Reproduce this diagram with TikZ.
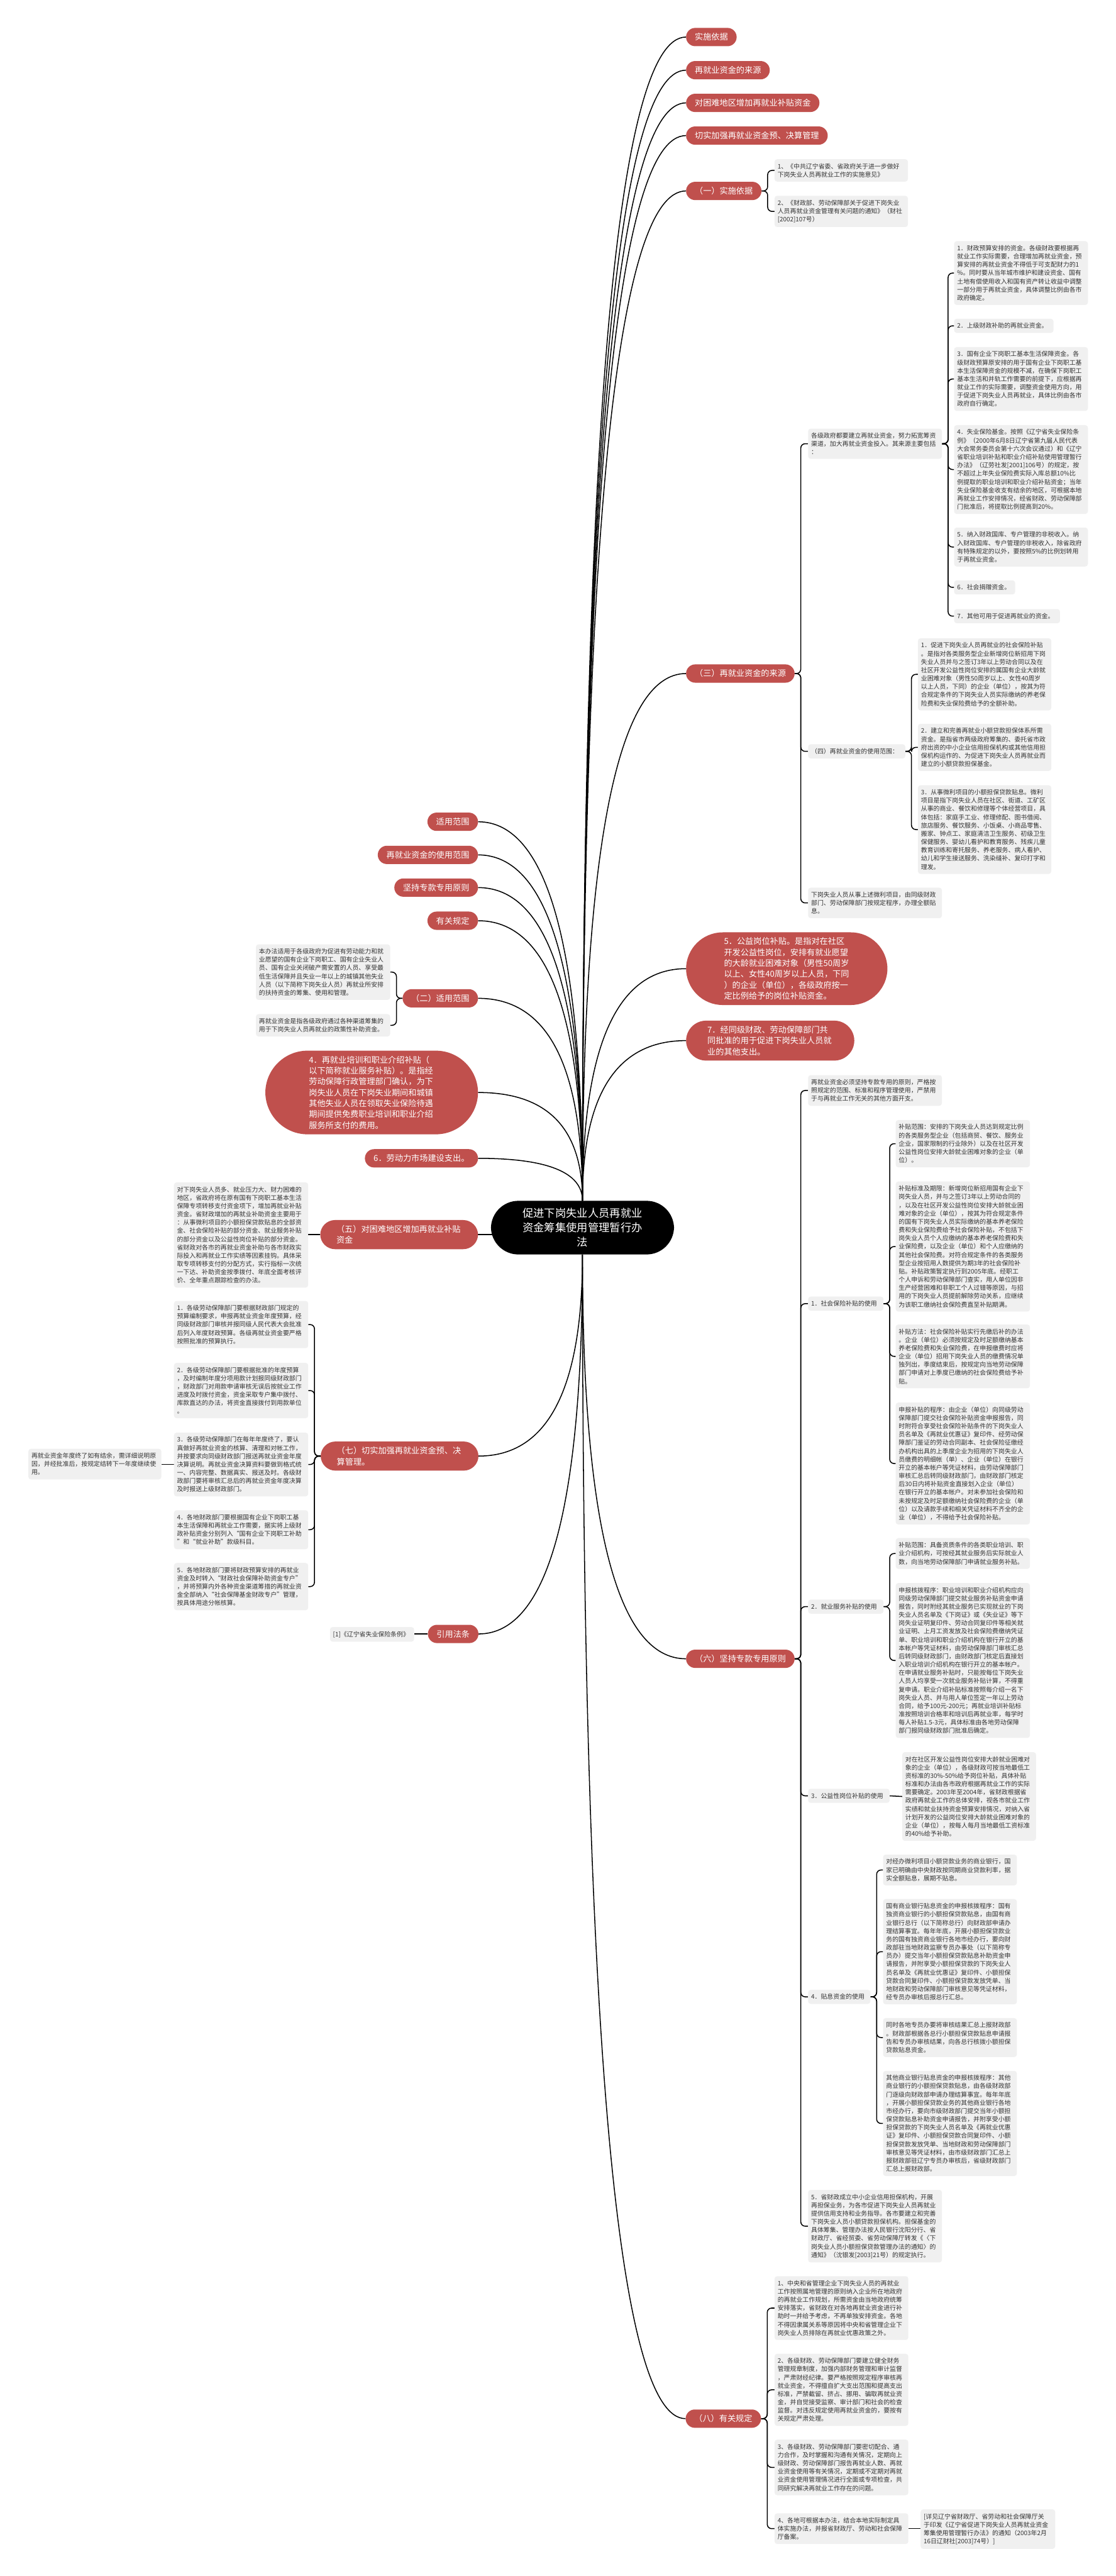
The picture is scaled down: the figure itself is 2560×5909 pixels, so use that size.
\documentclass[tikz,border=0pt]{standalone}
\usepackage{fontspec}
\setmainfont{Noto Sans CJK SC}
\usetikzlibrary{calc,backgrounds}
\definecolor{redn}{RGB}{192,80,77}
\definecolor{leafbg}{RGB}{240,240,240}
\definecolor{leaftx}{RGB}{51,51,51}
\tikzset{
  conn/.style={draw=black,line width=2.2pt,rounded corners=10pt},
  trunkline/.style={draw=black,line width=2.2pt},
  rednode/.style={fill=redn,text=white,font=\fontsize{19}{25}\selectfont,inner xsep=20pt,inner ysep=0pt,minimum height=42pt,rounded corners=21pt},
  redml/.style={fill=redn,text=white,font=\fontsize{19}{25}\selectfont,align=left,inner ysep=12pt},
  centernode/.style={fill=black,text=white,font=\fontsize{25}{33}\selectfont,align=center,text width=280pt,inner xsep=70pt,inner ysep=17pt,rounded corners=63pt},
  leaf/.style={fill=leafbg,text=leaftx,font=\fontsize{14.3}{19}\selectfont,align=left,inner xsep=7pt,inner ysep=9.5pt,rounded corners=6pt,anchor=north west},
}
\newcommand{\trunk}[2]{\draw[trunkline] (#1) .. controls ($(#1)!0.667!(#1|-#2)$) and ($(#2)!0.667!(#1|-#2)$) .. (#2);}
\newcommand{\brR}[2]{\draw[conn] (#1.east) -- ++(14,0) |- (#2.west);}
\newcommand{\brL}[2]{\draw[conn] (#1.west) -- ++(-14,0) |- (#2.east);}
\begin{document}
\begin{tikzpicture}[x=1pt,y=-1pt]
\useasboundingbox (0,0) rectangle (2560,5909);

% center
\node[centernode] (cn) at (1336.5,2816) {促进下岗失业人员再就业\\资金筹集使用管理暂行办\\法};

% right first level
\node[rednode,anchor=west] (r1) at (1574,85) {实施依据};
\node[rednode,anchor=west] (r2) at (1574,161) {再就业资金的来源};
\node[rednode,anchor=west] (r3) at (1574,236) {对困难地区增加再就业补贴资金};
\node[rednode,anchor=west] (r4) at (1574,311) {切实加强再就业资金预、决算管理};
\node[rednode,anchor=west] (r5) at (1574,438) {（一）实施依据};
\node[rednode,anchor=west] (r6) at (1574,1545) {（三）再就业资金的来源};
\node[redml,anchor=west,text width=288pt,inner xsep=87pt,rounded corners=84pt] (r7) at (1574,2222) {5．公益岗位补贴。是指对在社区\\开发公益性岗位，安排有就业愿望\\的大龄就业困难对象（男性50周岁\\以上、女性40周岁以上人员，下同\\）的企业（单位），各级政府按一\\定比例给予的岗位补贴资金。};
\node[redml,anchor=west,text width=288pt,inner xsep=49pt,rounded corners=46pt] (r8) at (1574,2387) {7．经同级财政、劳动保障部门共\\同批准的用于促进下岗失业人员就\\业的其他支出。};
\node[rednode,anchor=west] (r9) at (1574,3805) {（六）坚持专款专用原则};
\node[rednode,anchor=west] (r10) at (1573,5548) {（八）有关规定};

% (一)
\node[leaf,text width=292pt] (l1a) at (1777,365) {1、《中共辽宁省委、省政府关于进一步做好\\下岗失业人员再就业工作的实施意见》};
\node[leaf,text width=292pt] (l1b) at (1777,449) {2、《财政部、劳动保障部关于促进下岗失业\\人员再就业资金管理有关问题的通知》（财社\\{}[2002]107号）};

% (三)
\node[leaf,text width=293pt] (a) at (1854,983) {各级政府都要建立再就业资金，努力拓宽筹资\\渠道，加大再就业资金投入。其来源主要包括\\：};
\node[leaf,text width=293pt] (a1) at (2189,553) {1．财政预算安排的资金。各级财政要根据再\\就业工作实际需要，合理增加再就业资金，预\\算安排的再就业资金不得低于可支配财力的1\\\%。同时要从当年城市维护和建设资金、国有\\土地有偿使用收入和国有资产转让收益中调整\\一部分用于再就业资金，具体调整比例由各市\\政府确定。};
\node[leaf,text width=214pt] (a2) at (2189,731) {2．上级财政补助的再就业资金。};
\node[leaf,text width=293pt] (a3) at (2189,796) {3．国有企业下岗职工基本生活保障资金。各\\级财政预算原安排的用于国有企业下岗职工基\\本生活保障资金的规模不减，在确保下岗职工\\基本生活和并轨工作需要的前提下，应根据再\\就业工作的实际需要，调整资金使用方向，用\\于促进下岗失业人员再就业，具体比例由各市\\政府自行确定。};
\node[leaf,text width=293pt] (a4) at (2189,975) {4．失业保险基金。按照《辽宁省失业保险条\\例》（2000年6月8日辽宁省第九届人民代表\\大会常务委员会第十六次会议通过）和《辽宁\\省职业培训补贴和职业介绍补贴使用管理暂行\\办法》（辽劳社发[2001]106号）的规定，按\\不超过上年失业保险费实际入库总额10\%比\\例提取的职业培训和职业介绍补贴资金；当年\\失业保险基金收支有结余的地区，可根据本地\\再就业工作安排情况，经省财政、劳动保障部\\门批准后，将提取比例提高到20\%。};
\node[leaf,text width=293pt] (a5) at (2189,1210) {5．纳入财政国库、专户管理的非税收入。纳\\入财政国库、专户管理的非税收入，除省政府\\有特殊规定的以外，要按照5\%的比例划转用\\于再就业资金。};
\node[leaf,text width=126pt] (a6) at (2189,1331) {6．社会捐赠资金。};
\node[leaf,text width=229pt] (a7) at (2189,1397) {7．其他可用于促进再就业的资金。};
\node[leaf,text width=209pt] (b) at (1854,1707) {（四）再就业资金的使用范围：};
\node[leaf,text width=292pt] (b1) at (2106,1464) {1．促进下岗失业人员再就业的社会保险补贴\\。是指对各类服务型企业新增岗位新招用下岗\\失业人员并与之签订3年以上劳动合同以及在\\社区开发公益性岗位安排的属国有企业大龄就\\业困难对象（男性50周岁以上、女性40周岁\\以上人员，下同）的企业（单位），按其为符\\合规定条件的下岗失业人员实际缴纳的养老保\\险费和失业保险费给予的全额补助。};
\node[leaf,text width=292pt] (b2) at (2106,1660) {2．建立和完善再就业小额贷款担保体系所需\\资金。是指省市两级政府筹集的、委托省市政\\府出资的中小企业信用担保机构或其他信用担\\保机构运作的、为促进下岗失业人员再就业而\\建立的小额贷款担保基金。};
\node[leaf,text width=292pt] (b3) at (2106,1801) {3．从事微利项目的小额担保贷款贴息。微利\\项目是指下岗失业人员在社区、街道、工矿区\\从事的商业、餐饮和修理等个体经营项目，具\\体包括：家庭手工业、修理修配、图书借阅、\\旅店服务、餐饮服务、小饭桌、小商品零售、\\搬家、钟点工、家庭清洁卫生服务、初级卫生\\保健服务、婴幼儿看护和教育服务、残疾儿童\\教育训练和寄托服务、养老服务、病人看护、\\幼儿和学生接送服务、洗染缝补、复印打字和\\理发。};
\node[leaf,text width=293pt] (c) at (1854,2036) {下岗失业人员从事上述微利项目，由同级财政\\部门、劳动保障部门按规定程序，办理全额贴\\息。};

% (六)
\node[leaf,text width=293pt] (d) at (1854,2466) {再就业资金必须坚持专款专用的原则，严格按\\照规定的范围、标准和程序管理使用，严禁用\\于与再就业工作无关的其他方面开支。};
\node[leaf,text width=159pt] (e) at (1854,2974) {1．社会保险补贴的使用};
\node[leaf,text width=294pt] (e1) at (2055,2569) {补贴范围：安排的下岗失业人员达到规定比例\\的各类服务型企业（包括商贸、餐饮、服务业\\企业，国家限制的行业除外）以及在社区开发\\公益性岗位安排大龄就业困难对象的企业（单\\位）。};
\node[leaf,text width=294pt] (e2) at (2055,2710) {补贴标准及期限：新增岗位新招用国有企业下\\岗失业人员，并与之签订3年以上劳动合同的\\，以及在社区开发公益性岗位安排大龄就业困\\难对象的企业（单位），按其为符合规定条件\\的国有下岗失业人员实际缴纳的基本养老保险\\费和失业保险费给予社会保险补贴，不包括下\\岗失业人员个人应缴纳的基本养老保险费和失\\业保险费，以及企业（单位）和个人应缴纳的\\其他社会保险费。对符合规定条件的各类服务\\型企业按招用人数提供为期3年的社会保险补\\贴。补贴政策暂定执行到2005年底。经职工\\个人申诉和劳动保障部门查实，用人单位因非\\生产经营困难和非职工个人过错等原因，与招\\用的下岗失业人员提前解除劳动关系，应继续\\为该职工缴纳社会保险费直至补贴期满。};
\node[leaf,text width=294pt] (e3) at (2055,3038) {补贴方法：社会保险补贴实行先缴后补的办法\\。企业（单位）必须按规定及时足额缴纳基本\\养老保险费和失业保险费，在申报缴费时应将\\企业（单位）招用下岗失业人员的缴费情况单\\独列出，季度结束后，按规定向当地劳动保障\\部门申请对上季度已缴纳的社会保险费给予补\\贴。};
\node[leaf,text width=294pt] (e4) at (2055,3217) {申报补贴的程序：由企业（单位）向同级劳动\\保障部门提交社会保险补贴资金申报报告，同\\时附符合享受社会保险补贴条件的下岗失业人\\员名单及《再就业优惠证》复印件、经劳动保\\障部门鉴证的劳动合同副本、社会保险征缴经\\办机构出具的上季度企业为招用的下岗失业人\\员缴费的明细帐（单）、企业（单位）在银行\\开立的基本帐户等凭证材料，由劳动保障部门\\审核汇总后转同级财政部门，由财政部门核定\\后30日内将补贴资金直接划入企业（单位）\\在银行开立的基本帐户。对未参加社会保险和\\未按规定及时足额缴纳社会保险费的企业（单\\位）以及请款手续和相关凭证材料不齐全的企\\业（单位），不得给予社会保险补贴。};
\node[leaf,text width=159pt] (f) at (1854,3669) {2．就业服务补贴的使用};
\node[leaf,text width=294pt] (f1) at (2055,3528) {补贴范围：具备资质条件的各类职业培训、职\\业介绍机构，可按经其就业服务后实际就业人\\数，向当地劳动保障部门申请就业服务补贴。};
\node[leaf,text width=294pt] (f2) at (2055,3631) {申报核拨程序：职业培训和职业介绍机构应向\\同级劳动保障部门提交就业服务补贴资金申请\\报告，同时附经其就业服务已实现就业的下岗\\失业人员名单及《下岗证》或《失业证》等下\\岗失业证明复印件、劳动合同复印件等相关就\\业证明、上月工资发放及社会保险费缴纳凭证\\单、职业培训和职业介绍机构在银行开立的基\\本帐户等凭证材料，由劳动保障部门审核汇总\\后转同级财政部门，由财政部门核定后直接划\\入职业培训介绍机构在银行开立的基本帐户。\\在申请就业服务补贴时，只能按每位下岗失业\\人员人均享受一次就业服务补贴计算，不得重\\复申请。职业介绍补贴标准按照每介绍一名下\\岗失业人员、并与用人单位签定一年以上劳动\\合同，给予100元-200元；再就业培训补贴标\\准按照培训合格率和培训后再就业率，每学时\\每人补贴1.5-3元，具体标准由各地劳动保障\\部门报同级财政部门批准后确定。};
\node[leaf,text width=173pt] (g) at (1854,4103) {3．公益性岗位补贴的使用};
\node[leaf,text width=293pt] (g1) at (2070,4019) {对在社区开发公益性岗位安排大龄就业困难对\\象的企业（单位），各级财政可按当地最低工\\资标准的30\%-50\%给予岗位补贴，具体补贴\\标准和办法由各市政府根据再就业工作的实际\\需要确定。2003年至2004年，省财政根据省\\政府再就业工作的总体安排，视各市就业工作\\实绩和就业扶持资金预算安排情况，对纳入省\\计划开发的公益岗位安排大龄就业困难对象的\\企业（单位），按每人每月当地最低工资标准\\的40\%给予补助。};
\node[leaf,text width=129pt] (h) at (1854,4564) {4．贴息资金的使用};
\node[leaf,text width=293pt] (h1) at (2026,4254) {对经办微利项目小额贷款业务的商业银行，国\\家已明确由中央财政按同期商业贷款利率，据\\实全额贴息，展期不贴息。};
\node[leaf,text width=293pt] (h2) at (2026,4356) {国有商业银行贴息资金的申报核拨程序：国有\\独资商业银行的小额担保贷款贴息，由国有商\\业银行总行（以下简称总行）向财政部申请办\\理结算事宜。每年年底，开展小额担保贷款业\\务的国有独资商业银行各地市经办行，要向财\\政部驻当地财政监察专员办事处（以下简称专\\员办）提交当年小额担保贷款贴息补助资金申\\请报告，并附享受小额担保贷款的下岗失业人\\员名单及《再就业优惠证》复印件、小额担保\\贷款合同复印件、小额担保贷款发放凭单、当\\地财政和劳动保障部门审核意见等凭证材料，\\经专员办审核后报总行汇总。};
\node[leaf,text width=293pt] (h3) at (2026,4629) {同时各地专员办要将审核结果汇总上报财政部\\。财政部根据各总行小额担保贷款贴息申请报\\告和专员办审核结果，向各总行核拨小额担保\\贷款贴息资金。};
\node[leaf,text width=293pt] (h4) at (2026,4750) {其他商业银行贴息资金的申报核拨程序：其他\\商业银行的小额担保贷款贴息，由各级财政部\\门逐级向财政部申请办理结算事宜。每年年底\\，开展小额担保贷款业务的其他商业银行各地\\市经办行，要向市级财政部门提交当年小额担\\保贷款贴息补助资金申请报告，并附享受小额\\担保贷款的下岗失业人员名单及《再就业优惠\\证》复印件、小额担保贷款合同复印件、小额\\担保贷款发放凭单、当地财政和劳动保障部门\\审核意见等凭证材料，由市级财政部门汇总上\\报财政部驻辽宁专员办审核后，省级财政部门\\汇总上报财政部。};
\node[leaf,text width=293pt] (i) at (1854,5023) {5．省财政成立中小企业信用担保机构，开展\\再担保业务，为各市促进下岗失业人员再就业\\提供信用支持和业务指导。各市要建立和完善\\下岗失业人员小额贷款担保机构。担保基金的\\具体筹集、管理办法按人民银行沈阳分行、省\\财政厅、省经贸委、省劳动保障厅转发《〈下\\岗失业人员小额担保贷款管理办法的通知〉的\\通知》（沈银发[2003]21号）的规定执行。};

% (八)
\node[leaf,text width=293pt] (j1) at (1777,5221) {1、中央和省管理企业下岗失业人员的再就业\\工作按照属地管理的原则纳入企业所在地政府\\的再就业工作规划，所需资金由当地政府统筹\\安排落实，省财政在对各地再就业资金进行补\\助时一并给予考虑，不再单独安排资金。各地\\不得因隶属关系等原因将中央和省管理企业下\\岗失业人员排除在再就业优惠政策之外。};
\node[leaf,text width=293pt] (j2) at (1777,5399) {2、各级财政、劳动保障部门要建立健全财务\\管理规章制度，加强内部财务管理和审计监督\\，严肃财经纪律。要严格按照规定程序审核再\\就业资金，不得擅自扩大支出范围和提高支出\\标准，严禁截留、挤占、挪用、骗取再就业资\\金，并自觉接受监察、审计部门和社会的检查\\监督。对违反规定使用再就业资金的，要按有\\关规定严肃处理。};
\node[leaf,text width=293pt] (j3) at (1777,5596) {3、各级财政、劳动保障部门要密切配合、通\\力合作，及时掌握和沟通有关情况，定期向上\\级财政、劳动保障部门报告再就业人数、再就\\业资金使用等有关情况，定期或不定期对再就\\业资金使用管理情况进行全面或专项检查，共\\同研究解决再就业工作存在的问题。};
\node[leaf,text width=293pt] (j4) at (1777,5765) {4、各地可根据本办法，结合本地实际制定具\\体实施办法，并报省财政厅、劳动和社会保障\\厅备案。};
\node[leaf,text width=295pt] (j5) at (2112,5756) {[详见辽宁省财政厅、省劳动和社会保障厅关\\于印发《辽宁省促进下岗失业人员再就业资金\\筹集使用管理暂行办法》的通知（2003年2月\\16日辽财社[2003]74号）]};

% left first level
\node[rednode,anchor=east] (q1) at (1097,1885) {适用范围};
\node[rednode,anchor=east] (q2) at (1097,1961) {再就业资金的使用范围};
\node[rednode,anchor=east] (q3) at (1097,2036) {坚持专款专用原则};
\node[rednode,anchor=east] (q4) at (1097,2112) {有关规定};
\node[rednode,anchor=east] (q5) at (1097,2290) {（二）适用范围};
\node[redml,anchor=east,text width=288pt,inner xsep=100pt,rounded corners=97pt] (q6) at (1097,2506) {4．再就业培训和职业介绍补贴（\\以下简称就业服务补贴）。是指经\\劳动保障行政管理部门确认，为下\\岗失业人员在下岗失业期间和城镇\\其他失业人员在领取失业保险待遇\\期间提供免费职业培训和职业介绍\\服务所支付的费用。};
\node[rednode,anchor=east] (q7) at (1097,2657) {6．劳动力市场建设支出。};
\node[redml,anchor=east,text width=288pt,inner xsep=37pt,rounded corners=34pt] (q8) at (1097,2832) {（五）对困难地区增加再就业补贴\\资金};
\node[redml,anchor=east,text width=288pt,inner xsep=37pt,rounded corners=34pt] (q9) at (1098,3340) {（七）切实加强再就业资金预、决\\算管理。};
\node[rednode,anchor=east] (q10) at (1098,3748) {引用法条};

% left leaves
\node[leaf,text width=294pt] (k1) at (587,2166) {本办法适用于各级政府为促进有劳动能力和就\\业愿望的国有企业下岗职工、国有企业失业人\\员、国有企业关闭破产需安置的人员、享受最\\低生活保障并且失业一年以上的城镇其他失业\\人员（以下简称下岗失业人员）再就业所安排\\的扶持资金的筹集、使用和管理。};
\node[leaf,text width=294pt] (k2) at (587,2326) {再就业资金是指各级政府通过各种渠道筹集的\\用于下岗失业人员再就业的政策性补助资金。};
\node[leaf,text width=294pt] (k3) at (399,2712) {对下岗失业人员多、就业压力大、财力困难的\\地区，省政府将在原有国有下岗职工基本生活\\保障专项转移支付资金项下，增加再就业补贴\\资金。省财政增加的再就业补助资金主要用于\\：从事微利项目的小额担保贷款贴息的全部资\\金、社会保险补贴的部分资金、就业服务补贴\\的部分资金以及公益性岗位补贴的部分资金。\\省财政对各市的再就业资金补助与各市财政实\\际投入和再就业工作实绩等因素挂钩。具体采\\取专项转移支付的分配方式，实行指标一次统\\一下达、补助资金按季拨付、年底全面考核评\\价、全年重点跟踪检查的办法。};
\node[leaf,text width=294pt] (m1) at (399,2984) {1．各级劳动保障部门要根据财政部门规定的\\预算编制要求，申报再就业资金年度预算，经\\同级财政部门审核并报同级人民代表大会批准\\后列入年度财政预算。各级再就业资金要严格\\按照批准的预算执行。};
\node[leaf,text width=294pt] (m2) at (399,3126) {2．各级劳动保障部门要根据批准的年度预算\\，及时编制年度分项用款计划报同级财政部门\\，财政部门对用款申请审核无误后按就业工作\\进度及时拨付资金，资金采取专户集中拨付、\\库款直达的办法，将资金直接拨付到用款单位\\。};
\node[leaf,text width=294pt] (m3) at (399,3286) {3．各级劳动保障部门在每年年度终了，要认\\真做好再就业资金的核算、清理和对帐工作，\\并按要求向同级财政部门报送再就业资金年度\\决算说明。再就业资金决算资料要做到格式统\\一、内容完整、数据真实、报送及时。各级财\\政部门要将审核汇总后的再就业资金年度决算\\及时报送上级财政部门。};
\node[leaf,text width=294pt] (m4) at (399,3464) {4．各地财政部门要根据国有企业下岗职工基\\本生活保障和再就业工作需要，据实将上级财\\政补贴资金分别列入“国有企业下岗职工补助\\”和“就业补助”款级科目。};
\node[leaf,text width=294pt] (m5) at (399,3585) {5．各地财政部门要将财政预算安排的再就业\\资金及时转入“财政社会保障补助资金专户”\\，并将预算内外各种资金渠道筹措的再就业资\\金全部纳入“社会保障基金财政专户”管理，\\按具体用途分帐核算。};
\node[leaf,text width=291pt] (m6) at (65,3323) {再就业资金年度终了如有结余，需详细说明原\\因，并经批准后，按规定结转下一年度继续使\\用。};
\node[leaf,text width=179pt] (m7) at (757,3732) {[1]《辽宁省失业保险条例》};

\begin{pgfonlayer}{background}
\fill[white] (0,0) rectangle (2560,5909);
% trunks right
\trunk{cn.north}{r1.west}
\trunk{cn.north}{r2.west}
\trunk{cn.north}{r3.west}
\trunk{cn.north}{r4.west}
\trunk{cn.north}{r5.west}
\trunk{cn.north}{r6.west}
\trunk{cn.north}{r7.west}
\trunk{cn.north}{r8.west}
\trunk{cn.south}{r9.west}
\trunk{cn.south}{r10.west}
% trunks left
\trunk{cn.north}{q1.east}
\trunk{cn.north}{q2.east}
\trunk{cn.north}{q3.east}
\trunk{cn.north}{q4.east}
\trunk{cn.north}{q5.east}
\trunk{cn.north}{q6.east}
\trunk{cn.north}{q7.east}
\draw[trunkline] (q8.east) -- ($(cn.west|-q8.east)+(12,0)$);
\trunk{cn.south}{q9.east}
\trunk{cn.south}{q10.east}
% brackets right
\brR{r5}{l1a}\brR{r5}{l1b}
\brR{r6}{a}\brR{r6}{b}\brR{r6}{c}
\brR{a}{a1}\brR{a}{a2}\brR{a}{a3}\brR{a}{a4}\brR{a}{a5}\brR{a}{a6}\brR{a}{a7}
\brR{b}{b1}\brR{b}{b2}\brR{b}{b3}
\brR{r9}{d}\brR{r9}{e}\brR{r9}{f}\brR{r9}{g}\brR{r9}{h}\brR{r9}{i}
\brR{e}{e1}\brR{e}{e2}\brR{e}{e3}\brR{e}{e4}
\brR{f}{f1}\brR{f}{f2}
\draw[trunkline] (g.east) -- (g1.west);
\brR{h}{h1}\brR{h}{h2}\brR{h}{h3}\brR{h}{h4}
\brR{r10}{j1}\brR{r10}{j2}\brR{r10}{j3}\brR{r10}{j4}
\draw[trunkline] (j4.east) -- (j5.west|-j4.east);
% brackets left
\brL{q5}{k1}\brL{q5}{k2}
\draw[trunkline] (q8.west) -- (k3.east|-q8.west);
\brL{q9}{m1}\brL{q9}{m2}\brL{q9}{m3}\brL{q9}{m4}\brL{q9}{m5}
\draw[trunkline] (m3.west) -- (m6.east|-m3.west);
\draw[trunkline] (q10.west) -- (m7.east|-q10.west);
\end{pgfonlayer}
\end{tikzpicture}
\end{document}
